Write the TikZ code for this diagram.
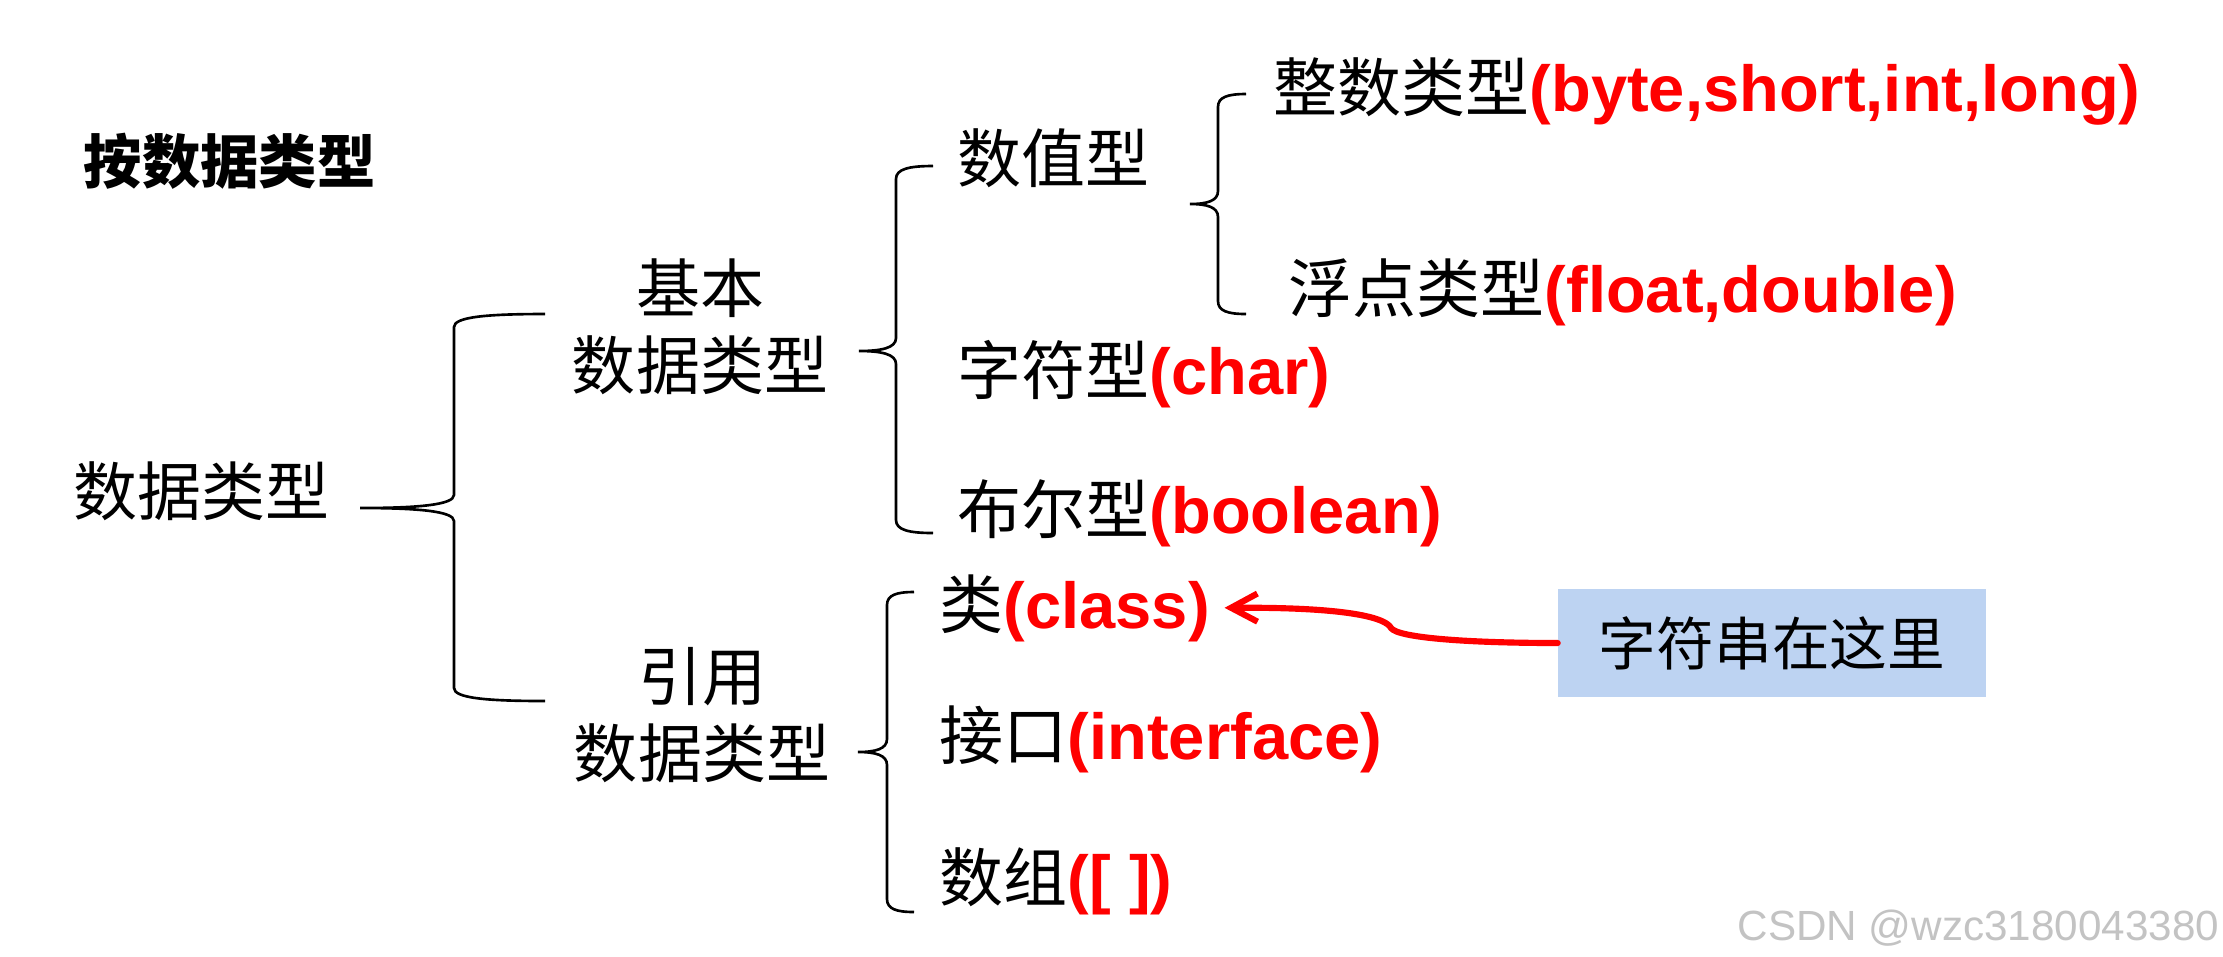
\documentclass[tikz,border=0pt]{standalone}
\usepackage{fontspec}
\setmainfont{Liberation Sans}
\newfontfamily\cjk{Noto Sans CJK SC}
\usetikzlibrary{arrows.meta}
\definecolor{boxblue}{RGB}{189,211,242}
\definecolor{wmgray}{RGB}{195,195,195}
\newcommand\szm{\fontsize{18.2pt}{21.8pt}\selectfont}
\newcommand\redtxt[1]{{\color{red}\rmfamily\bfseries\fontsize{18.5pt}{21.8pt}\selectfont #1}}
% #1 x of vertical, #2 x of ends, #3 x of tip, #4 y top, #5 y tip, #6 y bottom
\newcommand\mybrace[6]{%
\draw[bracestyle] (#2,#4) .. controls ({#1+0.35*(#2-#1)},#4) and (#1,{#4+3}) .. (#1,{#4+13})
 -- (#1,{#5-13}) .. controls (#1,{#5-3}) and ({#1-0.4*(#1-#3)},#5) .. (#3,#5)
 .. controls ({#1-0.4*(#1-#3)},#5) and (#1,{#5+3}) .. (#1,{#5+13})
 -- (#1,{#6-13}) .. controls (#1,{#6-3}) and ({#1+0.35*(#2-#1)},#6) .. (#2,#6);}
\begin{document}
\begin{tikzpicture}[x=0.01cm,y=-0.01cm,
  lbl/.style={inner sep=0pt, anchor=base west, font=\szm\cjk},
  twoline/.style={inner sep=0pt, anchor=center, align=center, font=\szm\cjk},
  bracestyle/.style={draw=black, line width=0.75pt},
  redarrow/.style={draw=red, line width=1.75pt, line cap=round,
    -{Straight Barb[length=7.5pt,width=8pt]}, shorten >=0.14cm},
  notebox/.style={fill=boxblue, inner sep=0pt, minimum width=4.27cm,
    minimum height=1.07cm, font=\fontsize{16.4pt}{19pt}\selectfont\cjk}]
\fill[white] (0,0) rectangle (2223,956);
\useasboundingbox (0,0) rectangle (2223,956);

\node[inner sep=0pt, anchor=base west, font=\fontsize{16.6pt}{20pt}\selectfont\cjk\bfseries] (title) at (83,183) {按数据类型};

\node[lbl] (root) at (73,515) {数据类型};
\node[twoline] (basic) at (700,327) {基本\\数据类型};
\node[twoline] (ref) at (702,715) {引用\\数据类型};

\node[lbl] (num) at (957,182) {数值型};
\node[lbl] (int) at (1273,111) {整数类型\redtxt{(byte,short,int,long)}};
\node[lbl] (flt) at (1288,312) {浮点类型\redtxt{(float,double)}};
\node[lbl] (chr) at (957,394) {字符型\redtxt{(char)}};
\node[lbl] (bool) at (957,533) {布尔型\redtxt{(boolean)}};

\node[lbl] (cls) at (939,628) {类\redtxt{(class)}};
\node[lbl] (iface) at (939,759) {接口\redtxt{(interface)}};
\node[lbl] (arr) at (939,901) {数组\redtxt{([ ])}};

\node[notebox] (box) at (1772,643) {字符串在这里};

\mybrace{454}{545}{360}{314}{508}{701}
\mybrace{896}{933}{859}{166}{351}{533}
\mybrace{887}{914}{858}{592}{752}{912}
\mybrace{1218}{1246}{1190}{94}{204}{314}

\draw[redarrow] (box.west) .. controls (1470,643) and (1398,638) .. (1391,628)
  .. controls (1386,618) and (1350,607) .. (cls.east);

\node[inner sep=0pt, anchor=base west, font=\fontsize{12pt}{14pt}\selectfont, text=wmgray] (wm) at (1737,940) {CSDN @wzc3180043380};
\end{tikzpicture}
\end{document}
